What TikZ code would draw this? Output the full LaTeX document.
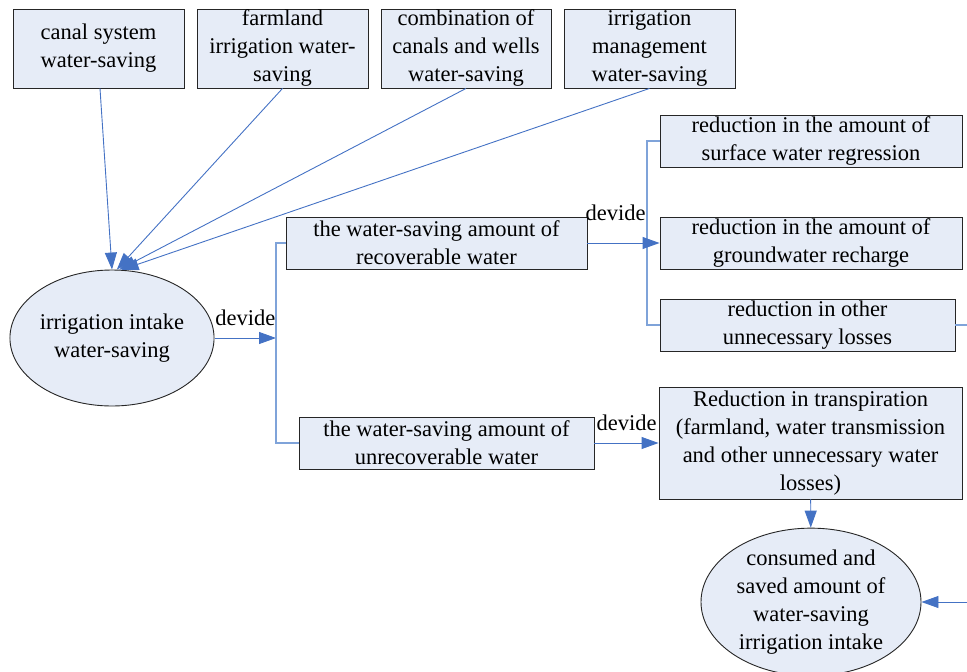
\documentclass[tikz,border=0pt]{standalone}
\usepackage{fontspec}
\setmainfont{Liberation Serif}
\usepackage{xcolor}
\usetikzlibrary{arrows.meta,shapes.geometric}
\definecolor{boxfill}{HTML}{E6ECF7}
\definecolor{linkblue}{HTML}{4472C4}
\definecolor{splitblue}{HTML}{7FA3D9}

\begin{document}
\begin{tikzpicture}[x=1pt,y=-1pt,>={Triangle[length=17pt,width=12pt]},
			font=\fontsize{22.5}{28}\selectfont,
			block/.style = {draw=black!85, fill=boxfill, shape=rectangle, align=center, inner sep=0pt, line width=0.9pt},
			tblock/.style = {block, minimum width=171pt, minimum height=79pt},
			wblock/.style = {block, minimum height=52pt},
			oval/.style = {draw=black!85, fill=boxfill, shape=ellipse, align=center, inner sep=0pt, line width=0.9pt},
			link/.style = {->, draw=linkblue, line width=0.9pt},
			split/.style = {draw=splitblue, line width=1.2pt},
			lbl/.style = {anchor=base, inner sep=0pt}
			]
			\useasboundingbox (0,0) rectangle (967,672);
			% sources of saving
			\node [tblock] (canal) at (98.5,48.5) {canal system\\water-saving};
			\node [tblock] (farm) at (282.5,48.5) {farmland\\irrigation water-\\saving};
			\node [tblock, minimum width=170pt] (combo) at (466,48.5) {combination of\\canals and wells\\water-saving};
			\node [tblock] (manage) at (649.5,48.5) {irrigation\\management\\water-saving};
			\node [oval, minimum width=204pt, minimum height=136pt] (intake) at (112,338) {irrigation intake\\water-saving};
			% the two parts
			\node [wblock, minimum width=301pt] (recov) at (436.5,243) {the water-saving amount of\\recoverable water};
			\node [wblock, minimum width=295pt] (unrecov) at (446.5,443) {the water-saving amount of\\unrecoverable water};
			\node [wblock, minimum width=302pt] (surface) at (811,141) {reduction in the amount of\\surface water regression};
			\node [wblock, minimum width=302pt] (ground) at (811,243) {reduction in the amount of\\groundwater recharge};
			\node [wblock, minimum width=295pt] (other) at (807.5,325) {reduction in other\\unnecessary losses};
			\node [block, minimum width=303pt, minimum height=112pt] (transp) at (810.5,443) {Reduction in transpiration\\(farmland, water transmission\\and other unnecessary water\\losses)};
			\node [oval, minimum width=220pt, minimum height=146pt] (consumed) at (811,602) {consumed and\\saved amount of\\water-saving\\irrigation intake};
			\coordinate (split1) at (276,338);
			\coordinate (split2) at (647,243);
			\coordinate (otherout) at (967,325);
			\coordinate (consin) at (967,602);
			\draw[link] ([xshift=1.5pt]canal.south) -- (intake.north);
			\draw[link] (farm.south) -- (intake.86);
			\draw[link] (combo.south) -- (intake.84);
			\draw[link] (manage.south) -- (intake.82);
			\draw[link] (intake) -- node[lbl, yshift=13pt]{devide} (split1);
			\draw[split] (recov.west) -| (split1) |- (unrecov.west);
			\draw[split] (surface.west) -| (split2) |- (other.west);
			\draw[link] (recov) -- (ground);
			\node [lbl, anchor=base west] at ([xshift=-2pt,yshift=23pt]recov.east) {devide};
			\draw[link] (unrecov) -- node[lbl, yshift=13pt]{devide} (transp);
			\draw[split] (other) -- (otherout);
			\draw[link] (transp) -- (consumed);
			\draw[link] (consin) -- (consumed);
		\end{tikzpicture}
\end{document}
